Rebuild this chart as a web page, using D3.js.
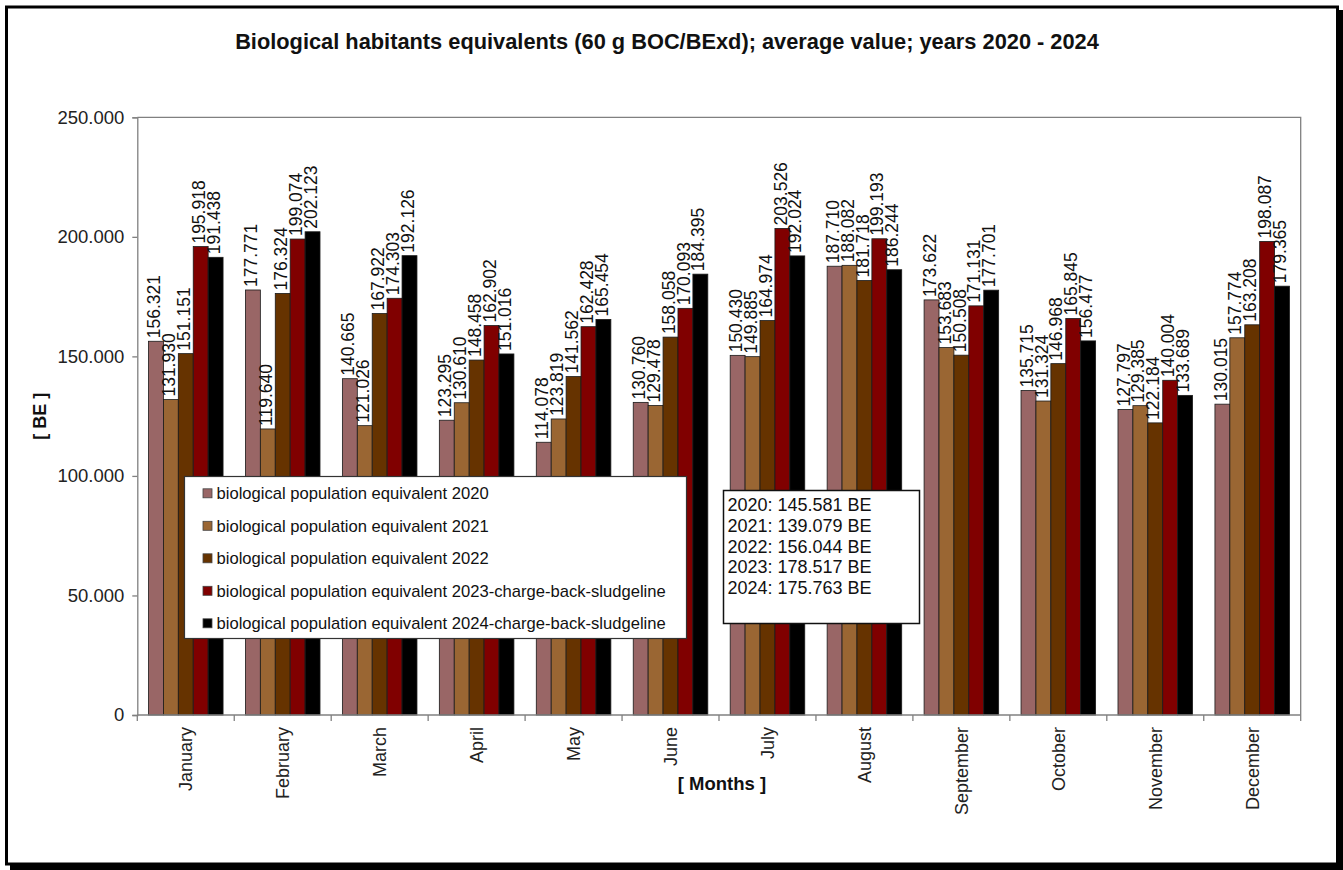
<!DOCTYPE html>
<html>
<head>
<meta charset="utf-8">
<script src="https://cdn.jsdelivr.net/npm/d3@7"></script>
<style>
  html, body { margin: 0; padding: 0; background: #fff; }
  svg { display: block; font-family: "Liberation Sans", Arial, sans-serif; }
</style>
</head>
<body>
<svg id="chart" width="1343" height="870"></svg>
<script>
const months = ["January","February","March","April","May","June","July","August","September","October","November","December"];
const seriesNames = [
  "biological population equivalent 2020",
  "biological population equivalent 2021",
  "biological population equivalent 2022",
  "biological population equivalent 2023-charge-back-sludgeline",
  "biological population equivalent 2024-charge-back-sludgeline"
];
const seriesColors = ["#996666", "#9a6633", "#663300", "#800000", "#000000"];
const v2020 = [156321, 177771, 140665, 123295, 114078, 130760, 150430, 187710, 173622, 135715, 127797, 130015];
const v2021 = [131930, 119640, 121026, 130610, 123819, 129478, 149885, 188082, 153683, 131324, 129385, 157774];
const v2022 = [151151, 176324, 167922, 148458, 141562, 158058, 164974, 181718, 150508, 146968, 122184, 163208];
const v2023 = [195918, 199074, 174303, 162902, 162428, 170093, 203526, 199193, 171131, 165845, 140004, 198087];
const v2024 = [191438, 202123, 192126, 151016, 165454, 184395, 192024, 186244, 177701, 156477, 133689, 179365];
const yearLabels = ["2020", "2021", "2022", "2023", "2024"];
const yearAverages = [145581, 139079, 156044, 178517, 175763];
const yTicks = [0, 50000, 100000, 150000, 200000, 250000];
const titleText = "Biological habitants equivalents (60 g BOC/BExd); average value; years 2020 - 2024";

const seriesValues = [v2020, v2021, v2022, v2023, v2024];
const svg = d3.select("#chart");
const fmt = v => d3.format(",")(v).replace(/,/g, ".");

// outer frame with shadow
svg.append("rect").attr("x", 1337).attr("y", 10).attr("width", 6).attr("height", 860).attr("fill", "#000");
svg.append("rect").attr("x", 10).attr("y", 864).attr("width", 1333).attr("height", 6).attr("fill", "#000");
svg.append("rect").attr("x", 6.5).attr("y", 7).attr("width", 1331).attr("height", 857)
  .attr("fill", "#fff").attr("stroke", "#000").attr("stroke-width", 3);

const L = 137.3, R = 1300.7, T = 117.3, B = 715;
const pi = 1.5 / 6.5;
const x = d3.scaleBand().domain(months).range([L, R]).paddingInner(pi).paddingOuter(pi / 2);
const xs = d3.scaleBand().domain(d3.range(5)).range([0, x.bandwidth()]);
const y = d3.scaleLinear().domain([0, 250000]).range([B, T]);

// plot area border (top/right)
svg.append("path").attr("d", `M${L},${T}H${R}V${B}`).attr("fill", "none").attr("stroke", "#808080").attr("stroke-width", 1.3);

// bars
const groups = svg.append("g").selectAll("g").data(seriesValues).join("g")
  .attr("fill", (d, i) => seriesColors[i]);
groups.each(function(vals, si) {
  d3.select(this).selectAll("rect").data(vals).join("rect")
    .attr("x", (d, mi) => x(months[mi]) + xs(si))
    .attr("y", d => y(d))
    .attr("width", xs.bandwidth())
    .attr("height", d => B - y(d))
    .attr("stroke", "#1a1a1a").attr("stroke-width", 0.8);
});

// y axis
const yAxis = svg.append("g").attr("transform", `translate(${L},0)`)
  .call(d3.axisLeft(y).tickValues(yTicks).tickSize(5).tickPadding(8).tickFormat(d => d === 0 ? "0" : fmt(d)));
yAxis.select(".domain").attr("stroke", "#808080").attr("stroke-width", 1.3);
yAxis.selectAll(".tick line").attr("stroke", "#808080").attr("stroke-width", 1.3);
yAxis.selectAll(".tick text").attr("font-size", "18.5px").attr("fill", "#222").attr("font-family", "Liberation Sans, Arial, sans-serif");

// x axis line and boundary ticks
svg.append("line").attr("x1", L).attr("x2", R).attr("y1", B).attr("y2", B).attr("stroke", "#808080").attr("stroke-width", 1.3);
svg.append("g").selectAll("line").data(d3.range(months.length + 1)).join("line")
  .attr("x1", i => x.range()[0] + i * x.step()).attr("x2", i => x.range()[0] + i * x.step())
  .attr("y1", B).attr("y2", B + 6).attr("stroke", "#808080").attr("stroke-width", 1.3);

// month labels
svg.append("g").selectAll("text").data(months).join("text")
  .attr("transform", d => `translate(${x(d) + x.bandwidth() / 2},727) rotate(-90)`)
  .attr("text-anchor", "end").attr("dy", "0.35em")
  .attr("font-size", "18px").attr("fill", "#222").text(d => d);

// data labels
const labelG = svg.append("g");
seriesValues.forEach((vals, si) => {
  labelG.selectAll(null).data(vals).join("text")
    .attr("transform", (d, mi) => `translate(${x(months[mi]) + xs(si) + xs.bandwidth() / 2 - 2},${y(d) - 3}) rotate(-90)`)
    .attr("text-anchor", "start").attr("dy", "0.35em")
    .attr("font-size", "17.5px").attr("fill", "#111").text(d => fmt(d));
});

// title
svg.append("text").attr("x", 667).attr("y", 49).attr("text-anchor", "middle")
  .attr("font-size", "21.8px").attr("font-weight", "bold").attr("fill", "#111").text(titleText);

// axis titles
svg.append("text").attr("transform", `translate(40,${(T + B) / 2}) rotate(-90)`)
  .attr("text-anchor", "middle").attr("dy", "0.35em")
  .attr("font-size", "18px").attr("font-weight", "bold").attr("fill", "#111").text("[ BE ]");
svg.append("text").attr("x", 722).attr("y", 790).attr("text-anchor", "middle")
  .attr("font-size", "18.5px").attr("font-weight", "bold").attr("fill", "#111").text("[ Months ]");

// legend
const lg = svg.append("g");
lg.append("rect").attr("x", 184.5).attr("y", 476.5).attr("width", 502).attr("height", 162)
  .attr("fill", "#fff").attr("stroke", "#333").attr("stroke-width", 1.2);
const li = lg.selectAll("g").data(seriesNames).join("g")
  .attr("transform", (d, i) => `translate(203,${493.3 + i * 32.5})`);
li.append("rect").attr("x", 0).attr("y", -4.5).attr("width", 9).attr("height", 9)
  .attr("fill", (d, i) => seriesColors[i]).attr("stroke", "#444").attr("stroke-width", 0.8);
li.append("text").attr("x", 13.5).attr("dy", "0.35em").attr("font-size", "16.6px").attr("fill", "#111").text(d => d);

// averages box
const ab = svg.append("g");
ab.append("rect").attr("x", 723.5).attr("y", 490.5).attr("width", 196).attr("height", 133)
  .attr("fill", "#fff").attr("stroke", "#111").attr("stroke-width", 1.5);
ab.selectAll("text").data(yearLabels).join("text")
  .attr("x", 727.5).attr("y", (d, i) => 505 + i * 20.6).attr("dy", "0.35em")
  .attr("font-size", "18px").attr("fill", "#111")
  .text((d, i) => `${d}: ${fmt(yearAverages[i])} BE`);
</script>
</body>
</html>
